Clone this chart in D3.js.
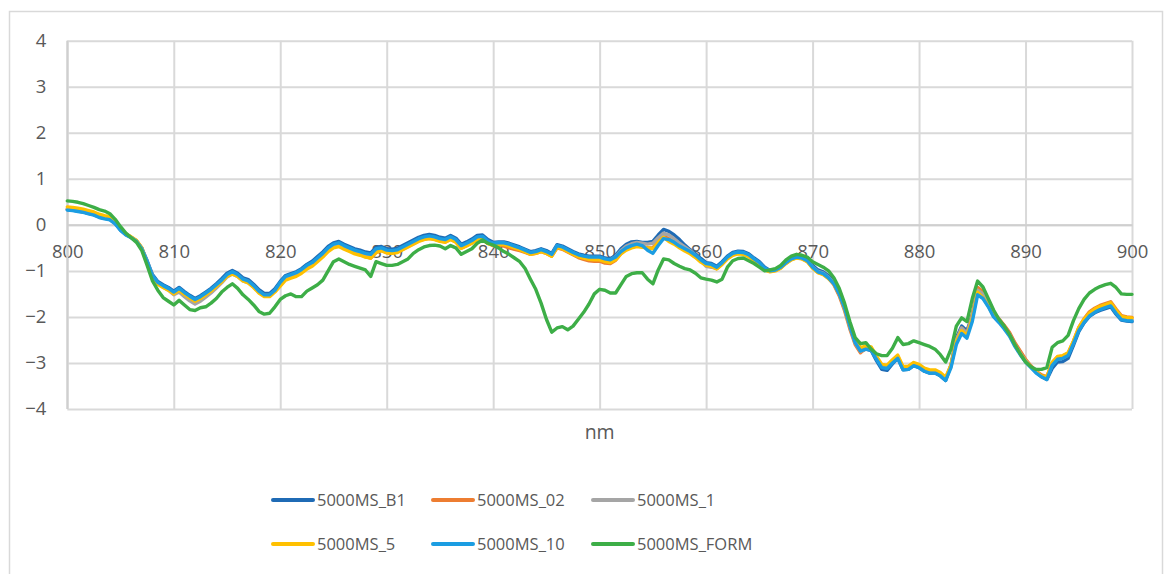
<!DOCTYPE html>
<html>
<head>
<meta charset="utf-8">
<script src="https://cdn.jsdelivr.net/npm/d3@7"></script>
<style>
  html, body { margin: 0; padding: 0; background: #ffffff; }
  svg { display: block; }
  text { font-family: "Open Sans", "Liberation Sans", sans-serif; fill: #595959; }
</style>
</head>
<body>
<svg id="chart" width="1167" height="574"></svg>
<script>
// Wavelength sampling (nm): 800 to 900 in 0.5 nm steps
const nmStart = 800;
const nmStep = 0.5;

const xTicks = [800, 810, 820, 830, 840, 850, 860, 870, 880, 890, 900];
const yTicks = [-4, -3, -2, -1, 0, 1, 2, 3, 4];
const xTitle = "nm";

const seriesNames = ["5000MS_B1", "5000MS_02", "5000MS_1", "5000MS_5", "5000MS_10", "5000MS_FORM"];
const seriesColors = ["#1F6BB5", "#ED7D31", "#A5A5A5", "#FFC000", "#1B9DE2", "#3DAE47"];

const msB1 = [
  0.33,0.32,0.30,0.28,0.25,0.22,0.17,0.14,0.12,0.03,
  -0.11,-0.21,-0.27,-0.35,-0.51,-0.78,-1.08,-1.23,-1.30,-1.36,
  -1.44,-1.36,-1.45,-1.53,-1.60,-1.54,-1.46,-1.38,-1.28,-1.17,
  -1.05,-0.99,-1.05,-1.15,-1.19,-1.29,-1.41,-1.49,-1.49,-1.39,
  -1.23,-1.10,-1.06,-1.02,-0.95,-0.86,-0.79,-0.69,-0.59,-0.47,
  -0.39,-0.36,-0.42,-0.47,-0.52,-0.55,-0.59,-0.61,-0.49,-0.47,
  -0.52,-0.53,-0.51,-0.45,-0.39,-0.33,-0.27,-0.23,-0.21,-0.23,
  -0.27,-0.29,-0.23,-0.29,-0.42,-0.37,-0.31,-0.23,-0.22,-0.32,
  -0.38,-0.37,-0.37,-0.40,-0.44,-0.48,-0.53,-0.58,-0.56,-0.52,
  -0.56,-0.62,-0.43,-0.46,-0.52,-0.58,-0.63,-0.66,-0.68,-0.68,
  -0.68,-0.72,-0.74,-0.66,-0.52,-0.42,-0.37,-0.36,-0.38,-0.38,
  -0.36,-0.22,-0.10,-0.14,-0.22,-0.32,-0.44,-0.54,-0.63,-0.73,
  -0.82,-0.84,-0.90,-0.80,-0.68,-0.60,-0.57,-0.58,-0.63,-0.72,
  -0.80,-0.92,-0.99,-0.97,-0.91,-0.81,-0.73,-0.69,-0.71,-0.77,
  -0.88,-0.98,-1.02,-1.11,-1.24,-1.46,-1.78,-2.18,-2.56,-2.74,
  -2.70,-2.73,-2.95,-3.14,-3.16,-3.02,-2.90,-3.15,-3.14,-3.06,
  -3.10,-3.18,-3.22,-3.22,-3.28,-3.38,-3.04,-2.45,-2.20,-2.30,
  -1.96,-1.40,-1.48,-1.68,-1.92,-2.06,-2.20,-2.36,-2.58,-2.76,
  -2.94,-3.08,-3.20,-3.30,-3.36,-3.12,-2.98,-2.97,-2.90,-2.62,
  -2.32,-2.13,-1.99,-1.91,-1.86,-1.82,-1.78,-1.94,-2.07,-2.09,
  -2.10
];

const ms02 = [
  0.34,0.33,0.31,0.28,0.25,0.22,0.18,0.15,0.13,0.04,
  -0.10,-0.20,-0.27,-0.35,-0.51,-0.82,-1.12,-1.27,-1.34,-1.40,
  -1.48,-1.40,-1.49,-1.57,-1.64,-1.58,-1.50,-1.42,-1.32,-1.22,
  -1.09,-1.03,-1.09,-1.19,-1.23,-1.33,-1.45,-1.53,-1.53,-1.43,
  -1.31,-1.18,-1.14,-1.10,-1.03,-0.94,-0.88,-0.78,-0.68,-0.56,
  -0.48,-0.45,-0.51,-0.56,-0.61,-0.64,-0.69,-0.72,-0.60,-0.56,
  -0.60,-0.61,-0.59,-0.53,-0.47,-0.41,-0.35,-0.31,-0.29,-0.31,
  -0.35,-0.37,-0.31,-0.37,-0.50,-0.45,-0.39,-0.31,-0.30,-0.40,
  -0.45,-0.44,-0.46,-0.50,-0.53,-0.56,-0.60,-0.64,-0.62,-0.58,
  -0.62,-0.68,-0.50,-0.53,-0.59,-0.65,-0.71,-0.75,-0.78,-0.79,
  -0.79,-0.83,-0.84,-0.77,-0.62,-0.52,-0.46,-0.43,-0.46,-0.50,
  -0.50,-0.35,-0.24,-0.30,-0.38,-0.47,-0.54,-0.61,-0.69,-0.79,
  -0.87,-0.89,-0.95,-0.85,-0.73,-0.65,-0.62,-0.63,-0.68,-0.77,
  -0.85,-0.97,-1.01,-0.99,-0.93,-0.83,-0.75,-0.71,-0.73,-0.79,
  -0.93,-1.03,-1.07,-1.16,-1.30,-1.54,-1.86,-2.26,-2.60,-2.78,
  -2.68,-2.68,-2.88,-3.06,-3.08,-2.96,-2.86,-3.10,-3.09,-3.01,
  -3.05,-3.13,-3.17,-3.17,-3.23,-3.33,-3.06,-2.50,-2.24,-2.36,
  -1.96,-1.36,-1.45,-1.66,-1.90,-2.04,-2.18,-2.34,-2.56,-2.74,
  -2.92,-3.06,-3.18,-3.26,-3.30,-3.00,-2.87,-2.85,-2.79,-2.53,
  -2.23,-2.04,-1.89,-1.81,-1.75,-1.71,-1.67,-1.83,-1.97,-2.00,
  -2.01
];

const ms1 = [
  0.35,0.34,0.32,0.30,0.27,0.24,0.19,0.16,0.14,0.05,
  -0.11,-0.21,-0.27,-0.35,-0.51,-0.80,-1.11,-1.27,-1.35,-1.42,
  -1.52,-1.46,-1.56,-1.65,-1.72,-1.66,-1.57,-1.48,-1.37,-1.26,
  -1.13,-1.07,-1.12,-1.22,-1.26,-1.35,-1.47,-1.54,-1.54,-1.44,
  -1.27,-1.14,-1.10,-1.06,-0.99,-0.90,-0.84,-0.74,-0.64,-0.52,
  -0.44,-0.41,-0.47,-0.52,-0.57,-0.60,-0.64,-0.66,-0.54,-0.52,
  -0.57,-0.58,-0.56,-0.50,-0.44,-0.38,-0.32,-0.28,-0.26,-0.28,
  -0.32,-0.34,-0.28,-0.34,-0.47,-0.42,-0.36,-0.28,-0.27,-0.37,
  -0.41,-0.40,-0.40,-0.43,-0.47,-0.51,-0.56,-0.61,-0.59,-0.55,
  -0.59,-0.65,-0.46,-0.49,-0.55,-0.61,-0.66,-0.69,-0.71,-0.71,
  -0.71,-0.75,-0.76,-0.69,-0.56,-0.46,-0.41,-0.38,-0.40,-0.42,
  -0.40,-0.28,-0.18,-0.22,-0.30,-0.40,-0.48,-0.56,-0.66,-0.78,
  -0.90,-0.92,-0.95,-0.84,-0.71,-0.63,-0.60,-0.61,-0.66,-0.75,
  -0.83,-0.95,-1.01,-0.99,-0.93,-0.83,-0.75,-0.71,-0.73,-0.79,
  -0.92,-1.01,-1.05,-1.14,-1.27,-1.50,-1.82,-2.22,-2.57,-2.75,
  -2.70,-2.71,-2.90,-3.08,-3.10,-2.98,-2.88,-3.12,-3.11,-3.03,
  -3.07,-3.15,-3.19,-3.19,-3.25,-3.35,-3.07,-2.50,-2.24,-2.36,
  -1.98,-1.42,-1.50,-1.70,-1.94,-2.08,-2.22,-2.38,-2.60,-2.78,
  -2.95,-3.08,-3.20,-3.29,-3.34,-3.03,-2.91,-2.89,-2.82,-2.56,
  -2.27,-2.08,-1.94,-1.86,-1.80,-1.76,-1.72,-1.88,-2.02,-2.05,
  -2.06
];

const ms5 = [
  0.39,0.38,0.36,0.34,0.31,0.28,0.23,0.20,0.18,0.09,
  -0.10,-0.20,-0.26,-0.34,-0.50,-0.84,-1.14,-1.29,-1.36,-1.42,
  -1.50,-1.42,-1.51,-1.59,-1.66,-1.60,-1.52,-1.44,-1.34,-1.24,
  -1.12,-1.06,-1.12,-1.22,-1.26,-1.36,-1.48,-1.56,-1.56,-1.46,
  -1.33,-1.20,-1.16,-1.12,-1.05,-0.96,-0.90,-0.80,-0.70,-0.58,
  -0.50,-0.47,-0.53,-0.58,-0.63,-0.66,-0.70,-0.72,-0.60,-0.56,
  -0.61,-0.62,-0.60,-0.54,-0.48,-0.42,-0.36,-0.32,-0.30,-0.32,
  -0.36,-0.38,-0.32,-0.38,-0.51,-0.46,-0.40,-0.32,-0.31,-0.41,
  -0.44,-0.43,-0.43,-0.46,-0.50,-0.54,-0.59,-0.64,-0.62,-0.58,
  -0.62,-0.68,-0.49,-0.52,-0.58,-0.64,-0.69,-0.72,-0.75,-0.76,
  -0.76,-0.80,-0.82,-0.76,-0.63,-0.55,-0.50,-0.47,-0.49,-0.50,
  -0.52,-0.38,-0.27,-0.36,-0.42,-0.50,-0.57,-0.63,-0.71,-0.81,
  -0.88,-0.90,-0.96,-0.86,-0.74,-0.66,-0.63,-0.64,-0.69,-0.78,
  -0.86,-0.98,-1.02,-1.00,-0.94,-0.84,-0.76,-0.72,-0.74,-0.80,
  -0.94,-1.04,-1.08,-1.17,-1.28,-1.50,-1.80,-2.20,-2.49,-2.67,
  -2.63,-2.65,-2.85,-3.03,-3.05,-2.93,-2.83,-3.08,-3.07,-2.99,
  -3.03,-3.11,-3.15,-3.15,-3.21,-3.31,-3.04,-2.54,-2.30,-2.40,
  -2.04,-1.46,-1.58,-1.76,-1.98,-2.10,-2.24,-2.40,-2.62,-2.80,
  -2.96,-3.08,-3.20,-3.28,-3.30,-2.99,-2.86,-2.84,-2.78,-2.52,
  -2.23,-2.05,-1.91,-1.83,-1.77,-1.73,-1.69,-1.85,-1.99,-2.01,
  -2.02
];

const ms10 = [
  0.32,0.31,0.29,0.27,0.24,0.21,0.16,0.13,0.11,0.02,
  -0.12,-0.22,-0.28,-0.36,-0.52,-0.80,-1.10,-1.25,-1.32,-1.38,
  -1.46,-1.38,-1.47,-1.55,-1.62,-1.56,-1.48,-1.40,-1.30,-1.20,
  -1.08,-1.02,-1.08,-1.18,-1.22,-1.32,-1.44,-1.52,-1.52,-1.42,
  -1.25,-1.12,-1.08,-1.04,-0.97,-0.88,-0.82,-0.72,-0.62,-0.50,
  -0.42,-0.39,-0.45,-0.50,-0.55,-0.58,-0.62,-0.64,-0.52,-0.50,
  -0.55,-0.56,-0.54,-0.48,-0.42,-0.36,-0.30,-0.26,-0.24,-0.26,
  -0.30,-0.32,-0.26,-0.32,-0.45,-0.40,-0.34,-0.26,-0.25,-0.35,
  -0.40,-0.39,-0.39,-0.42,-0.46,-0.50,-0.55,-0.60,-0.58,-0.54,
  -0.58,-0.64,-0.45,-0.48,-0.54,-0.60,-0.65,-0.68,-0.70,-0.70,
  -0.70,-0.74,-0.76,-0.70,-0.58,-0.50,-0.45,-0.42,-0.45,-0.55,
  -0.62,-0.45,-0.30,-0.32,-0.38,-0.46,-0.52,-0.58,-0.66,-0.76,
  -0.84,-0.86,-0.92,-0.82,-0.70,-0.62,-0.59,-0.60,-0.65,-0.74,
  -0.82,-0.94,-1.00,-0.98,-0.92,-0.82,-0.74,-0.70,-0.72,-0.78,
  -0.92,-1.02,-1.06,-1.15,-1.28,-1.50,-1.80,-2.20,-2.56,-2.74,
  -2.70,-2.72,-2.92,-3.10,-3.12,-3.00,-2.90,-3.15,-3.14,-3.06,
  -3.10,-3.18,-3.22,-3.22,-3.28,-3.38,-3.10,-2.60,-2.36,-2.46,
  -2.10,-1.52,-1.60,-1.78,-2.00,-2.12,-2.26,-2.42,-2.64,-2.82,
  -2.98,-3.10,-3.22,-3.30,-3.36,-3.05,-2.92,-2.90,-2.84,-2.58,
  -2.30,-2.12,-1.98,-1.90,-1.84,-1.80,-1.76,-1.92,-2.06,-2.08,
  -2.09
];

const msForm = [
  0.52,0.51,0.49,0.46,0.42,0.38,0.33,0.30,0.24,0.12,
  -0.04,-0.18,-0.28,-0.38,-0.56,-0.88,-1.22,-1.42,-1.58,-1.66,
  -1.74,-1.64,-1.74,-1.84,-1.86,-1.80,-1.78,-1.70,-1.60,-1.46,
  -1.36,-1.28,-1.38,-1.52,-1.62,-1.74,-1.88,-1.94,-1.92,-1.78,
  -1.62,-1.54,-1.50,-1.56,-1.56,-1.44,-1.37,-1.30,-1.20,-1.00,
  -0.80,-0.74,-0.80,-0.86,-0.90,-0.94,-0.98,-1.12,-0.80,-0.84,
  -0.88,-0.88,-0.86,-0.80,-0.74,-0.62,-0.54,-0.48,-0.45,-0.44,
  -0.46,-0.52,-0.45,-0.50,-0.64,-0.58,-0.52,-0.40,-0.33,-0.40,
  -0.44,-0.50,-0.58,-0.64,-0.72,-0.80,-0.95,-1.18,-1.40,-1.70,
  -2.05,-2.33,-2.24,-2.21,-2.28,-2.20,-2.05,-1.90,-1.72,-1.50,
  -1.40,-1.42,-1.48,-1.48,-1.30,-1.12,-1.06,-1.04,-1.04,-1.18,
  -1.28,-0.98,-0.74,-0.76,-0.84,-0.90,-0.95,-0.98,-1.05,-1.15,
  -1.18,-1.20,-1.24,-1.18,-0.92,-0.78,-0.73,-0.72,-0.78,-0.84,
  -0.92,-1.00,-0.98,-0.95,-0.88,-0.76,-0.68,-0.64,-0.66,-0.70,
  -0.80,-0.86,-0.92,-1.00,-1.15,-1.38,-1.70,-2.10,-2.45,-2.58,
  -2.56,-2.70,-2.80,-2.84,-2.84,-2.68,-2.45,-2.60,-2.58,-2.52,
  -2.56,-2.60,-2.64,-2.70,-2.82,-2.98,-2.70,-2.20,-2.02,-2.10,
  -1.60,-1.22,-1.35,-1.60,-1.85,-2.05,-2.20,-2.38,-2.60,-2.80,
  -2.98,-3.08,-3.14,-3.14,-3.10,-2.66,-2.56,-2.52,-2.40,-2.08,
  -1.82,-1.62,-1.48,-1.40,-1.34,-1.30,-1.27,-1.36,-1.50,-1.51,
  -1.51
];

const seriesValues = [msB1, ms02, ms1, ms5, ms10, msForm];

const svg = d3.select("#chart");

// chart frame
svg.append("rect")
  .attr("x", 9.5).attr("y", 11.5)
  .attr("width", 1153).attr("height", 600)
  .attr("fill", "#ffffff")
  .attr("stroke", "#d9d9d9")
  .attr("stroke-width", 1.5);

const plot = { left: 67.3, right: 1132, top: 40.7, bottom: 409 };

const x = d3.scaleLinear().domain([800, 900]).range([plot.left, plot.right]);
const y = d3.scaleLinear().domain([-4, 4]).range([plot.bottom, plot.top]);

const gridColor = "#d9d9d9";

// vertical gridlines
svg.append("g")
  .attr("transform", `translate(0,${plot.bottom})`)
  .call(d3.axisBottom(x).tickValues(xTicks).tickSize(-(plot.bottom - plot.top)).tickFormat(""))
  .call(g => g.select(".domain").remove())
  .call(g => g.selectAll(".tick line").attr("stroke", gridColor).attr("stroke-width", 2));

// horizontal gridlines + y labels
svg.append("g")
  .attr("transform", `translate(${plot.left},0)`)
  .call(d3.axisLeft(y).tickValues(yTicks).tickSize(-(plot.right - plot.left)).tickPadding(21).tickFormat(d3.format("d")))
  .call(g => g.select(".domain").remove())
  .call(g => g.selectAll(".tick line").attr("stroke", gridColor).attr("stroke-width", 2))
  .call(g => g.selectAll(".tick text")
    .attr("font-family", "'Open Sans', 'Liberation Sans', sans-serif")
    .attr("font-size", 18.5).attr("fill", "#595959"));

// category axis crossing at zero
svg.append("g")
  .attr("transform", `translate(0,${y(0)})`)
  .call(d3.axisBottom(x).tickValues(xTicks).tickSize(0).tickPadding(20).tickFormat(d3.format("d")))
  .call(g => g.select(".domain").attr("stroke", "#cfcfcf").attr("stroke-width", 2))
  .call(g => g.selectAll(".tick text")
    .attr("font-family", "'Open Sans', 'Liberation Sans', sans-serif")
    .attr("font-size", 18.5).attr("fill", "#595959"));

// left axis line
svg.append("line")
  .attr("x1", plot.left).attr("x2", plot.left)
  .attr("y1", plot.top).attr("y2", plot.bottom)
  .attr("stroke", "#cfcfcf").attr("stroke-width", 2);

// axis title
svg.append("text")
  .attr("x", (plot.left + plot.right) / 2)
  .attr("y", 439)
  .attr("text-anchor", "middle")
  .attr("font-size", 19.5)
  .text(xTitle);

// series lines
const line = d3.line()
  .x((d, i) => x(nmStart + i * nmStep))
  .y(d => y(d))
  .curve(d3.curveLinear);

svg.append("g")
  .selectAll("path")
  .data(seriesValues)
  .join("path")
  .attr("d", d => line(d))
  .attr("fill", "none")
  .attr("stroke", (d, i) => seriesColors[i])
  .attr("stroke-width", 3.4)
  .attr("stroke-linejoin", "round")
  .attr("stroke-linecap", "round");

// legend: 3 columns x 2 rows
const legendCols = [273, 433, 593];
const legendRows = [500, 544];
const legend = svg.append("g");
seriesNames.forEach((name, i) => {
  const cx = legendCols[i % 3];
  const cy = legendRows[Math.floor(i / 3)];
  legend.append("line")
    .attr("x1", cx).attr("x2", cx + 40)
    .attr("y1", cy).attr("y2", cy)
    .attr("stroke", seriesColors[i])
    .attr("stroke-width", 4)
    .attr("stroke-linecap", "round");
  legend.append("text")
    .attr("x", cx + 44)
    .attr("y", cy)
    .attr("dy", "0.35em")
    .attr("font-size", 16.5)
    .text(name);
});
</script>
</body>
</html>
